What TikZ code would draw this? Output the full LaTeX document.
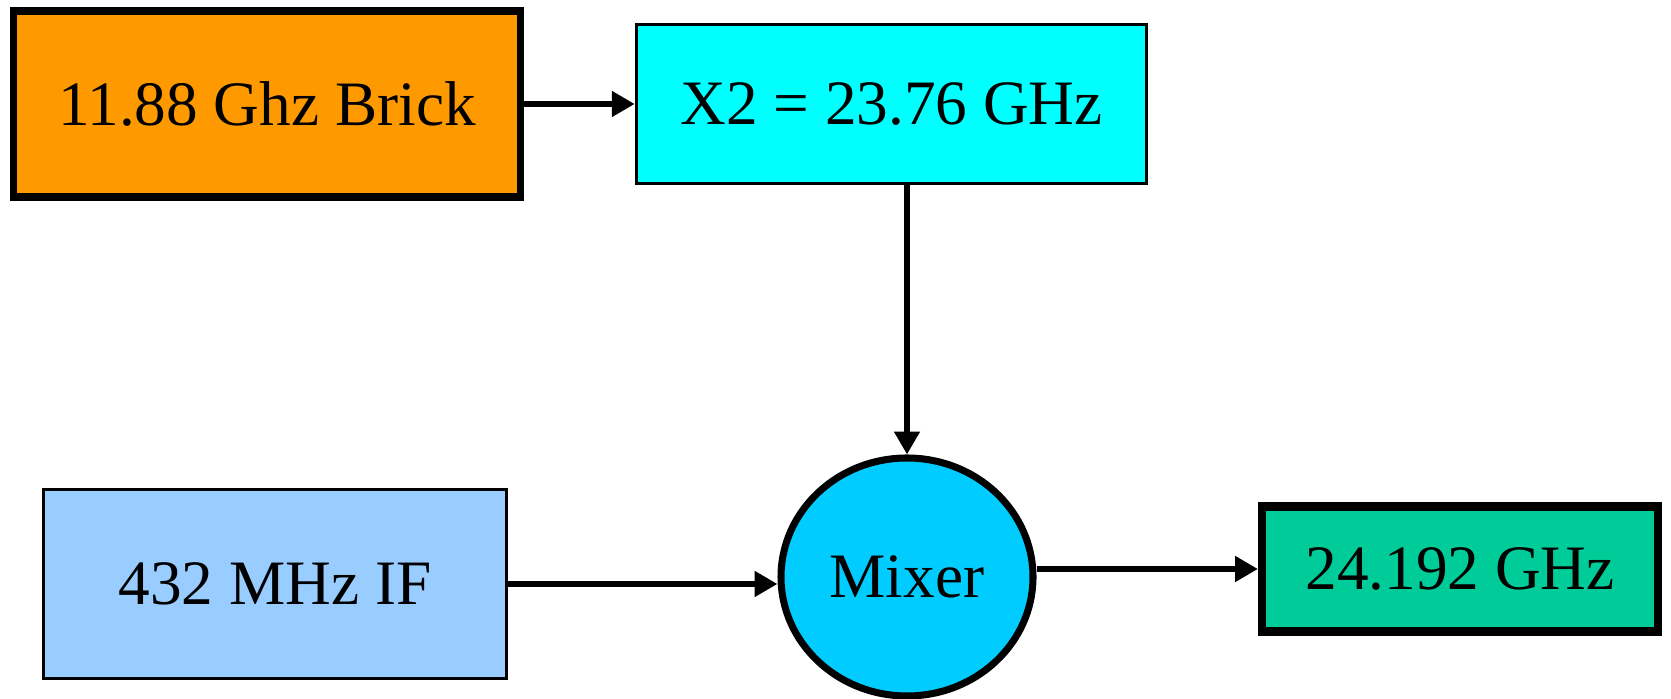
\documentclass[tikz,border=0pt]{standalone}
\usepackage{fontspec}
\setmainfont{Liberation Serif}
\usetikzlibrary{arrows.meta,positioning,shapes.geometric}

\definecolor{brick}{HTML}{FF9900}
\definecolor{dbl}{HTML}{00FFFF}
\definecolor{mix}{HTML}{00CCFF}
\definecolor{ifc}{HTML}{99CCFF}
\definecolor{outc}{HTML}{00CC99}

\begin{document}
\begin{tikzpicture}[
    font=\fontsize{18}{22}\selectfont,
    box/.style={draw, align=center, inner sep=0pt},
    arrow/.style={-{Triangle[length=6.5pt,width=7pt]}, line width=1.9pt}
  ]
    \useasboundingbox (0,0) rectangle (16.71,6.99);
    \node[box, fill=brick, line width=2pt, minimum width=5.07cm, minimum height=1.86cm] (brick) at (2.67,5.95) {11.88 Ghz Brick};
    \node[box, fill=dbl, line width=1pt, minimum width=5.10cm, minimum height=1.59cm] (dbl) at (8.915,5.95) {X2 = 23.76 GHz};
    \node[box, fill=ifc, line width=1pt, minimum width=4.63cm, minimum height=1.89cm] (if) at (2.75,1.15) {432 MHz IF};
    \node[box, ellipse, fill=mix, line width=2pt, minimum width=2.52cm, minimum height=2.38cm] (mixer) at (9.07,1.22) {Mixer};
    \node[box, fill=outc, line width=2.3pt, minimum width=3.96cm, minimum height=1.25cm] (out) at (14.6,1.30) {24.192 GHz};
    \draw[arrow] (brick) -- (dbl);
    \draw[arrow] (dbl.south -| mixer) -- (mixer);
    \draw[arrow] (if.east) -- (if.east -| mixer.west);
    \draw[arrow] (mixer.east |- out.west) -- (out.west);
  \end{tikzpicture}
\end{document}
